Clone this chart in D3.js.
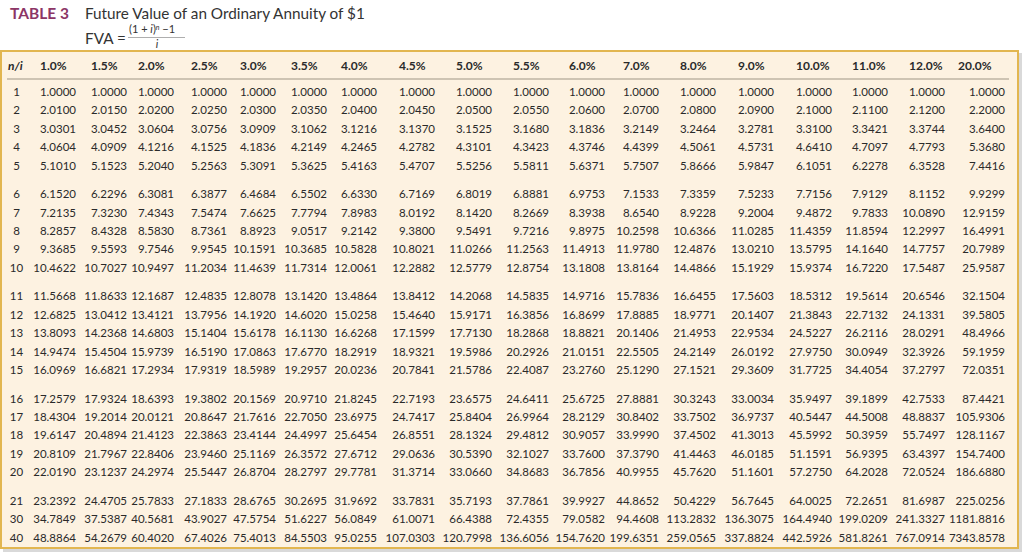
<!DOCTYPE html>
<html><head><meta charset="utf-8">
<script src="https://cdn.jsdelivr.net/npm/d3@7"></script>
<style>
html,body{margin:0;padding:0;background:#fff;}
svg{display:block;}
text{font-family:Lato,"Open Sans",sans-serif;}
</style></head>
<body><svg id="c" width="1024" height="559"></svg>
<script>
const titleTag = "TABLE 3";
const titleText = "Future Value of an Ordinary Annuity of $1";
const rates = ["1.0%","1.5%","2.0%","2.5%","3.0%","3.5%","4.0%","4.5%","5.0%","5.5%","6.0%","7.0%","8.0%","9.0%","10.0%","11.0%","12.0%","20.0%"];
const periods = ["1","2","3","4","5","6","7","8","9","10","11","12","13","14","15","16","17","18","19","20","21","30","40"];
const r1  = ["1.0000","1.0000","1.0000","1.0000","1.0000","1.0000","1.0000","1.0000","1.0000","1.0000","1.0000","1.0000","1.0000","1.0000","1.0000","1.0000","1.0000","1.0000"];
const r2  = ["2.0100","2.0150","2.0200","2.0250","2.0300","2.0350","2.0400","2.0450","2.0500","2.0550","2.0600","2.0700","2.0800","2.0900","2.1000","2.1100","2.1200","2.2000"];
const r3  = ["3.0301","3.0452","3.0604","3.0756","3.0909","3.1062","3.1216","3.1370","3.1525","3.1680","3.1836","3.2149","3.2464","3.2781","3.3100","3.3421","3.3744","3.6400"];
const r4  = ["4.0604","4.0909","4.1216","4.1525","4.1836","4.2149","4.2465","4.2782","4.3101","4.3423","4.3746","4.4399","4.5061","4.5731","4.6410","4.7097","4.7793","5.3680"];
const r5  = ["5.1010","5.1523","5.2040","5.2563","5.3091","5.3625","5.4163","5.4707","5.5256","5.5811","5.6371","5.7507","5.8666","5.9847","6.1051","6.2278","6.3528","7.4416"];
const r6  = ["6.1520","6.2296","6.3081","6.3877","6.4684","6.5502","6.6330","6.7169","6.8019","6.8881","6.9753","7.1533","7.3359","7.5233","7.7156","7.9129","8.1152","9.9299"];
const r7  = ["7.2135","7.3230","7.4343","7.5474","7.6625","7.7794","7.8983","8.0192","8.1420","8.2669","8.3938","8.6540","8.9228","9.2004","9.4872","9.7833","10.0890","12.9159"];
const r8  = ["8.2857","8.4328","8.5830","8.7361","8.8923","9.0517","9.2142","9.3800","9.5491","9.7216","9.8975","10.2598","10.6366","11.0285","11.4359","11.8594","12.2997","16.4991"];
const r9  = ["9.3685","9.5593","9.7546","9.9545","10.1591","10.3685","10.5828","10.8021","11.0266","11.2563","11.4913","11.9780","12.4876","13.0210","13.5795","14.1640","14.7757","20.7989"];
const r10 = ["10.4622","10.7027","10.9497","11.2034","11.4639","11.7314","12.0061","12.2882","12.5779","12.8754","13.1808","13.8164","14.4866","15.1929","15.9374","16.7220","17.5487","25.9587"];
const r11 = ["11.5668","11.8633","12.1687","12.4835","12.8078","13.1420","13.4864","13.8412","14.2068","14.5835","14.9716","15.7836","16.6455","17.5603","18.5312","19.5614","20.6546","32.1504"];
const r12 = ["12.6825","13.0412","13.4121","13.7956","14.1920","14.6020","15.0258","15.4640","15.9171","16.3856","16.8699","17.8885","18.9771","20.1407","21.3843","22.7132","24.1331","39.5805"];
const r13 = ["13.8093","14.2368","14.6803","15.1404","15.6178","16.1130","16.6268","17.1599","17.7130","18.2868","18.8821","20.1406","21.4953","22.9534","24.5227","26.2116","28.0291","48.4966"];
const r14 = ["14.9474","15.4504","15.9739","16.5190","17.0863","17.6770","18.2919","18.9321","19.5986","20.2926","21.0151","22.5505","24.2149","26.0192","27.9750","30.0949","32.3926","59.1959"];
const r15 = ["16.0969","16.6821","17.2934","17.9319","18.5989","19.2957","20.0236","20.7841","21.5786","22.4087","23.2760","25.1290","27.1521","29.3609","31.7725","34.4054","37.2797","72.0351"];
const r16 = ["17.2579","17.9324","18.6393","19.3802","20.1569","20.9710","21.8245","22.7193","23.6575","24.6411","25.6725","27.8881","30.3243","33.0034","35.9497","39.1899","42.7533","87.4421"];
const r17 = ["18.4304","19.2014","20.0121","20.8647","21.7616","22.7050","23.6975","24.7417","25.8404","26.9964","28.2129","30.8402","33.7502","36.9737","40.5447","44.5008","48.8837","105.9306"];
const r18 = ["19.6147","20.4894","21.4123","22.3863","23.4144","24.4997","25.6454","26.8551","28.1324","29.4812","30.9057","33.9990","37.4502","41.3013","45.5992","50.3959","55.7497","128.1167"];
const r19 = ["20.8109","21.7967","22.8406","23.9460","25.1169","26.3572","27.6712","29.0636","30.5390","32.1027","33.7600","37.3790","41.4463","46.0185","51.1591","56.9395","63.4397","154.7400"];
const r20 = ["22.0190","23.1237","24.2974","25.5447","26.8704","28.2797","29.7781","31.3714","33.0660","34.8683","36.7856","40.9955","45.7620","51.1601","57.2750","64.2028","72.0524","186.6880"];
const r21 = ["23.2392","24.4705","25.7833","27.1833","28.6765","30.2695","31.9692","33.7831","35.7193","37.7861","39.9927","44.8652","50.4229","56.7645","64.0025","72.2651","81.6987","225.0256"];
const r30 = ["34.7849","37.5387","40.5681","43.9027","47.5754","51.6227","56.0849","61.0071","66.4388","72.4355","79.0582","94.4608","113.2832","136.3075","164.4940","199.0209","241.3327","1181.8816"];
const r40 = ["48.8864","54.2679","60.4020","67.4026","75.4013","84.5503","95.0255","107.0303","120.7998","136.6056","154.7620","199.6351","259.0565","337.8824","442.5926","581.8261","767.0914","7343.8578"];

const rows = [r1,r2,r3,r4,r5,r6,r7,r8,r9,r10,r11,r12,r13,r14,r15,r16,r17,r18,r19,r20,r21,r30,r40];

// layout
const colRight = [76,127,174,227,276,327,377,435,492,549,605,659,716,774,832,888,945,1005];
const x = d3.scaleOrdinal().domain(rates).range(colRight);
const rowStep = 18.4, groupGap = 10.2, firstRow = 92;
const y = d3.scaleOrdinal().domain(periods).range(periods.map((p,i)=> firstRow + i*rowStep + Math.floor(i/5)*groupGap));

const svg = d3.select("#c");
const textCol = "#2a2a2a";

// title
svg.append("text").attr("x",10).attr("y",18.5).attr("font-size",15.5).attr("font-weight",700)
  .attr("fill","#8c3566").text(titleTag);
svg.append("text").attr("x",85).attr("y",18.5).attr("font-size",15.3).attr("fill","#333").text(titleText);
svg.append("text").attr("x",85).attr("y",43.5).attr("font-size",15.3).attr("fill","#333").text("FVA =");
const num = svg.append("text").attr("x",129).attr("y",33).attr("font-size",11).attr("fill","#333");
num.append("tspan").text("(1 + ");
num.append("tspan").attr("font-style","italic").text("i");
num.append("tspan").text(")");
num.append("tspan").attr("font-style","italic").attr("font-size",7).attr("dy",-3).text("n");
num.append("tspan").attr("dy",3).text(" \u22121");
svg.append("line").attr("x1",128).attr("x2",185).attr("y1",37.5).attr("y2",37.5)
  .attr("stroke","#999").attr("stroke-width",0.8);
svg.append("text").attr("x",157).attr("y",47.5).attr("font-size",11).attr("font-style","italic")
  .attr("fill","#333").attr("text-anchor","middle").text("i");

// shadow and panel
svg.append("rect").attr("x",3).attr("y",53).attr("width",1019).attr("height",499).attr("fill","#c9c9c9").attr("opacity",0.7);
svg.append("rect").attr("x",1).attr("y",51).attr("width",1017).attr("height",497)
  .attr("fill","#fdf2e1").attr("stroke","#e2b650").attr("stroke-width",2);

// header
const hdr = svg.append("g").attr("font-size",12).attr("font-weight",700).attr("fill",textCol);
hdr.append("text").attr("x",8).attr("y",70).attr("font-style","italic").text("n/i");
hdr.selectAll("text.r").data(rates).join("text").attr("class","r")
  .attr("x",d=> x(d) - (d==="20.0%" ? 47 : 36)).attr("y",70).text(d=>d);
svg.append("line").attr("x1",7).attr("x2",1009).attr("y1",79).attr("y2",79)
  .attr("stroke","#a09686").attr("stroke-width",1.2);

// rows
const body = svg.append("g").attr("font-size",11.5).attr("fill",textCol);
const rg = body.selectAll("g.row").data(rows).join("g").attr("class","row")
  .attr("transform",(d,i)=>`translate(0,${y(periods[i])})`);
rg.append("text").attr("x",16.5).attr("dy","0.35em").attr("text-anchor","middle").text((d,i)=>periods[i]);
rg.selectAll("text.v").data(d=>d.map((v,j)=>({v,r:rates[j]}))).join("text").attr("class","v")
  .attr("x",d=>x(d.r)).attr("dy","0.35em").attr("text-anchor","end").text(d=>d.v);
</script></body></html>
